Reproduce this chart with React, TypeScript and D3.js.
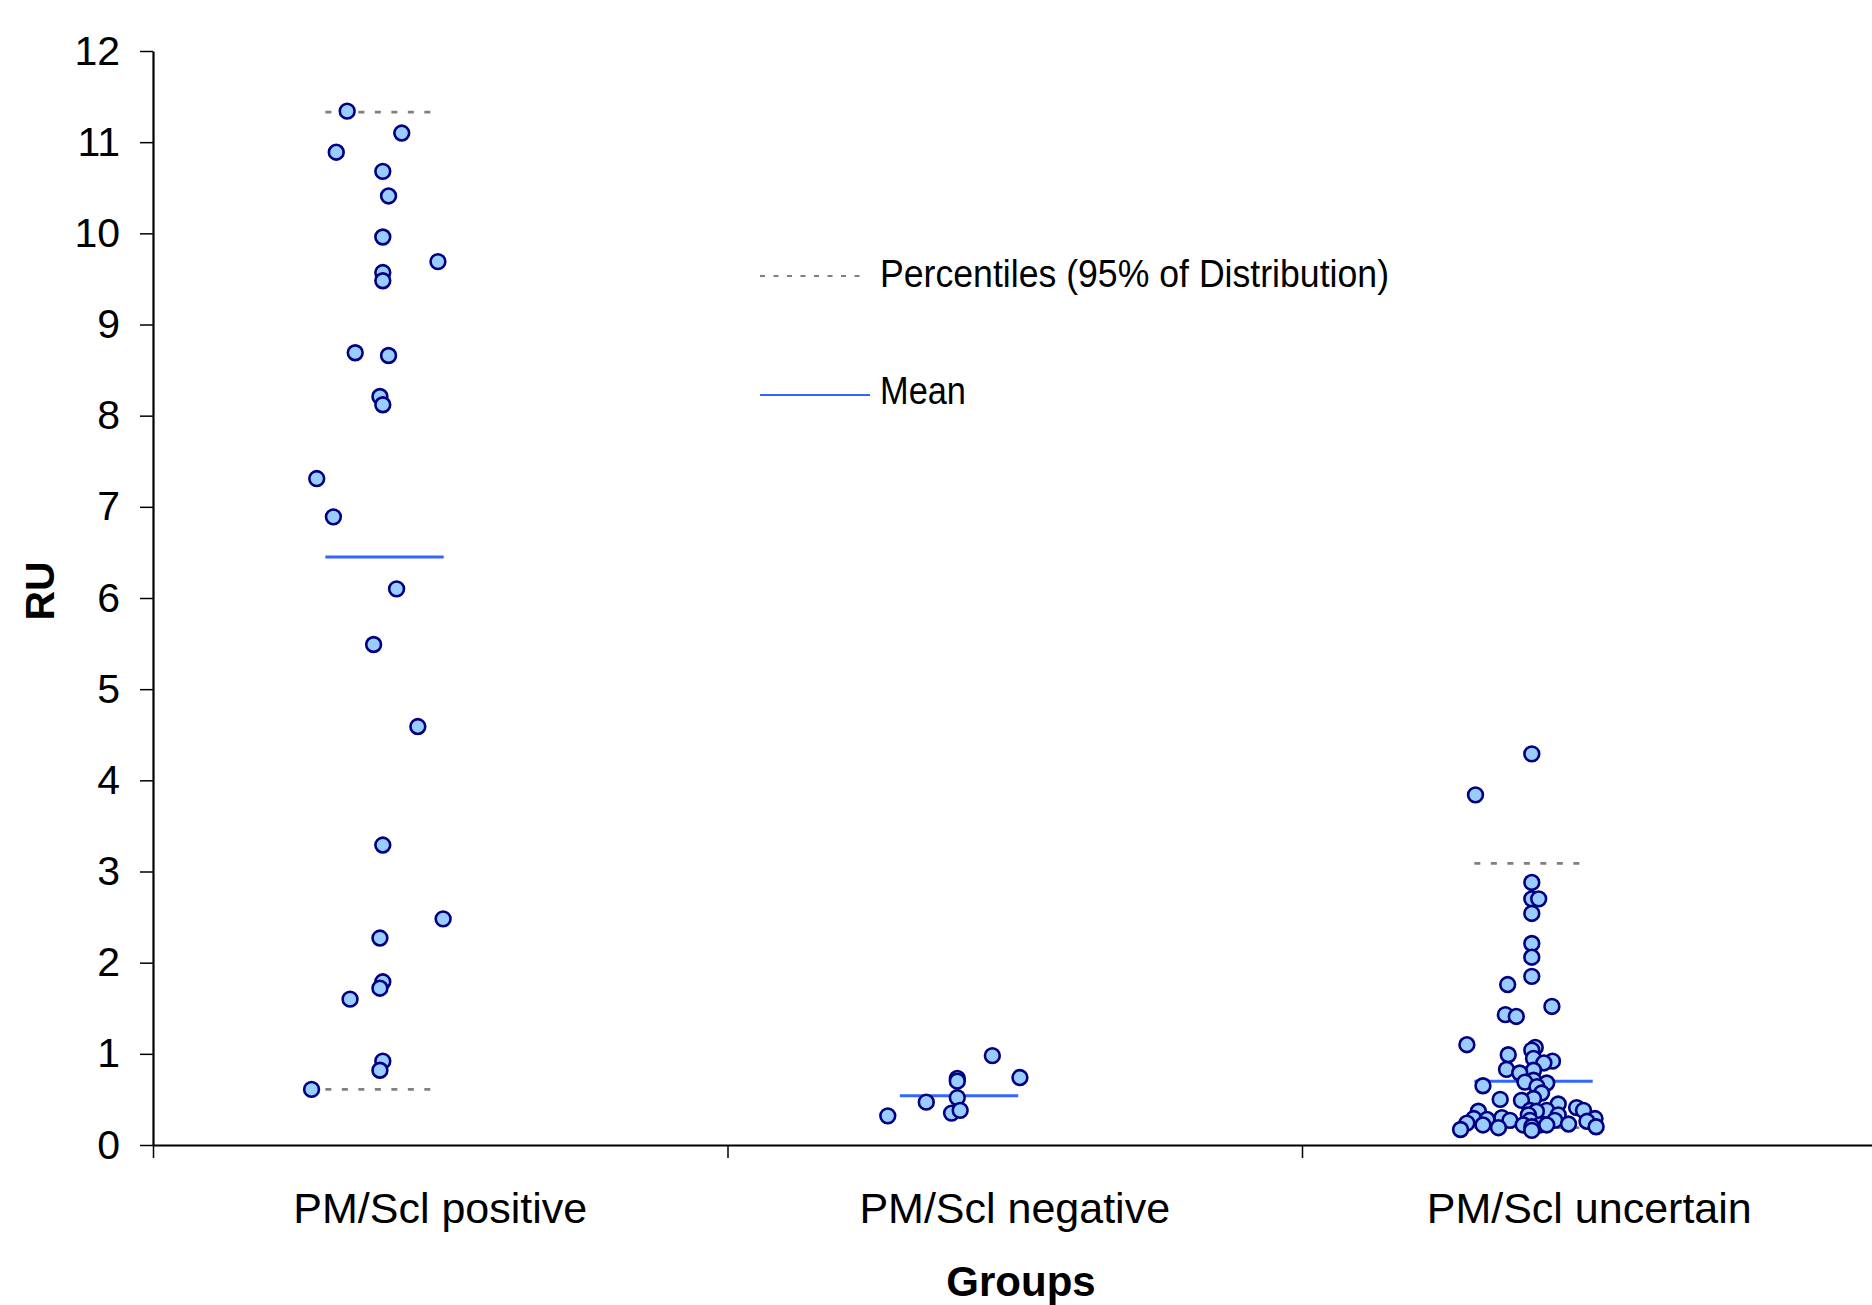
import React, { useEffect, useRef } from 'react';
import * as d3 from 'd3';

// group names (x categories)
const groups = ['PM/Scl positive', 'PM/Scl negative', 'PM/Scl uncertain'];

// RU values per group, with the scatter jitter (x offset in category units)
const positiveRU = [11.34, 11.1, 10.89, 10.68, 10.41, 9.96, 9.69, 9.57, 9.48, 8.69, 8.66, 8.21, 8.12, 7.31, 6.89, 6.1, 5.49, 4.59, 3.29, 2.48, 2.27, 1.79, 1.72, 1.6, 0.92, 0.82, 0.61];
const positiveJitter = [-0.062, 0.033, -0.081, 0, 0.01, 0, 0.096, 0, 0, -0.048, 0.01, -0.005, 0, -0.115, -0.086, 0.024, -0.016, 0.061, 0, 0.105, -0.005, 0, -0.005, -0.057, 0, -0.005, -0.124];

const negativeRU = [0.32, 0.47, 0.73, 0.7, 0.52, 0.35, 0.38, 0.98, 0.74];
const negativeJitter = [-0.121, -0.054, 0, 0, 0, -0.01, 0.005, 0.061, 0.109];

const uncertainRU = [4.29, 3.84, 2.88, 2.7, 2.7, 2.54, 2.21, 2.06, 1.85, 1.76, 1.52, 1.43, 1.41, 1.1, 1.07, 1.04, 0.99, 0.95, 0.92, 0.9, 0.83, 0.82, 0.79, 0.71, 0.69, 0.68, 0.65, 0.64, 0.57, 0.51, 0.5, 0.49, 0.45, 0.41, 0.38, 0.38, 0.38, 0.37, 0.37, 0.33, 0.33, 0.3, 0.29, 0.29, 0.28, 0.27, 0.27, 0.27, 0.26, 0.24, 0.23, 0.22, 0.22, 0.22, 0.22, 0.2, 0.2, 0.19, 0.17, 0.16];
const uncertainJitter = [0, -0.098, 0, 0, 0.012, 0, 0, 0, 0, -0.042, 0.035, -0.046, -0.027, -0.113, 0.006, 0, -0.041, 0.003, 0.036, 0.021, -0.044, 0.003, -0.021, 0.003, -0.012, 0.026, -0.085, 0.009, 0.017, 0.003, -0.055, -0.018, 0.046, 0.078, 0.09, 0.026, -0.003, 0.008, -0.093, -0.006, 0.046, -0.052, -0.101, 0.11, -0.078, -0.038, -0.003, 0.04, 0.096, -0.113, 0.064, -0.085, -0.015, 0.014, 0.026, 0, 0.112, -0.058, -0.124, 0];

// summary lines
const meanRU = [6.45, 0.54, 0.7];
const upperPercentile = [11.33, null, 3.09];
const lowerPercentile = [0.61, null, 0.19];

const yTicks = [0, 1, 2, 3, 4, 5, 6, 7, 8, 9, 10, 11, 12];

const FONT = '"Liberation Sans", Arial, Helvetica, sans-serif';

export default function App() {
  const svgRef = useRef<SVGSVGElement | null>(null);

  useEffect(() => {
    const width = 1872;
    const height = 1305;
    const svg = d3.select(svgRef.current);
    svg.selectAll('*').remove();

    const x = d3.scaleLinear().domain([0, 3]).range([153, 1876.5]);
    const y = d3.scaleLinear().domain([0, 12]).range([1145, 51]);

    const series = [
      { ru: positiveRU, jitter: positiveJitter },
      { ru: negativeRU, jitter: negativeJitter },
      { ru: uncertainRU, jitter: uncertainJitter },
    ];

    // y axis
    const yAxis = d3.axisLeft(y).tickValues(yTicks).tickSize(13).tickSizeOuter(0).tickPadding(20);
    const gy = svg.append('g').attr('transform', 'translate(153,0)').call(yAxis);
    gy.select('.domain').attr('stroke', '#000').attr('stroke-width', 2.2);
    gy.selectAll('.tick line').attr('stroke', '#000').attr('stroke-width', 1.5);
    gy.selectAll('.tick text')
      .attr('font-family', FONT)
      .attr('font-size', 41)
      .attr('fill', '#000');

    // x axis (ticks between categories)
    const xAxis = d3.axisBottom(x).tickValues([0, 1, 2, 3]).tickSize(13).tickSizeOuter(0).tickFormat(() => '');
    const gx = svg.append('g').attr('transform', 'translate(0,1145)').call(xAxis);
    gx.select('.domain').attr('stroke', '#000').attr('stroke-width', 2.2);
    gx.selectAll('.tick line').attr('stroke', '#000').attr('stroke-width', 1.5);

    // category labels
    svg.append('g')
      .selectAll('text')
      .data(groups)
      .enter().append('text')
      .attr('x', (d, i) => x(i + 0.5))
      .attr('y', 1223)
      .attr('text-anchor', 'middle')
      .attr('font-family', FONT)
      .attr('font-size', 43)
      .text(d => d);

    // axis titles
    svg.append('text')
      .attr('x', 1021)
      .attr('y', 1296)
      .attr('text-anchor', 'middle')
      .attr('font-family', FONT)
      .attr('font-weight', 'bold')
      .attr('font-size', 42)
      .text('Groups');
    svg.append('text')
      .attr('transform', 'translate(54,591) rotate(-90)')
      .attr('text-anchor', 'middle')
      .attr('font-family', FONT)
      .attr('font-weight', 'bold')
      .attr('font-size', 41)
      .text('RU');

    const lines = svg.append('g');

    // percentile lines
    [upperPercentile, lowerPercentile].forEach(arr => {
      arr.forEach((v, i) => {
        if (v == null) return;
        lines.append('line')
          .attr('x1', x(i + 0.3))
          .attr('x2', x(i + 0.487))
          .attr('y1', y(v))
          .attr('y2', y(v))
          .attr('stroke', '#808080')
          .attr('stroke-width', 2.8)
          .attr('stroke-dasharray', '6,10.5');
      });
    });

    // mean lines
    meanRU.forEach((v, i) => {
      lines.append('line')
        .attr('x1', x(i + 0.3))
        .attr('x2', x(i + 0.506))
        .attr('y1', y(v))
        .attr('y2', y(v))
        .attr('stroke', '#3366FF')
        .attr('stroke-width', 3);
    });

    // points
    const pts = svg.append('g');
    series.forEach((s, i) => {
      pts.selectAll('.pt' + i)
        .data(s.ru)
        .enter().append('circle')
        .attr('class', 'pt' + i)
        .attr('cx', (d, j) => x(i + 0.4 + s.jitter[j]))
        .attr('cy', d => y(d))
        .attr('r', 7.4)
        .attr('fill', '#99CCFF')
        .attr('stroke', '#000080')
        .attr('stroke-width', 2.6);
    });

    // legend
    const legend = svg.append('g');
    legend.append('line')
      .attr('x1', 760).attr('x2', 866)
      .attr('y1', 276).attr('y2', 276)
      .attr('stroke', '#808080')
      .attr('stroke-width', 2.2)
      .attr('stroke-dasharray', '5,8.5');
    legend.append('text')
      .attr('x', 880).attr('y', 287)
      .attr('font-family', FONT)
      .attr('font-size', 38)
      .attr('textLength', 509)
      .attr('lengthAdjust', 'spacingAndGlyphs')
      .text('Percentiles (95% of Distribution)');
    legend.append('line')
      .attr('x1', 760).attr('x2', 870)
      .attr('y1', 395).attr('y2', 395)
      .attr('stroke', '#3366FF')
      .attr('stroke-width', 2.2);
    legend.append('text')
      .attr('x', 880).attr('y', 404)
      .attr('font-family', FONT)
      .attr('font-size', 38)
      .attr('textLength', 86)
      .attr('lengthAdjust', 'spacingAndGlyphs')
      .text('Mean');

    svg.attr('width', width).attr('height', height);
  }, []);

  return (
    <svg
      ref={svgRef}
      width={1872}
      height={1305}
      style={{ position: 'absolute', left: 0, top: 0, background: '#fff' }}
    />
  );
}
